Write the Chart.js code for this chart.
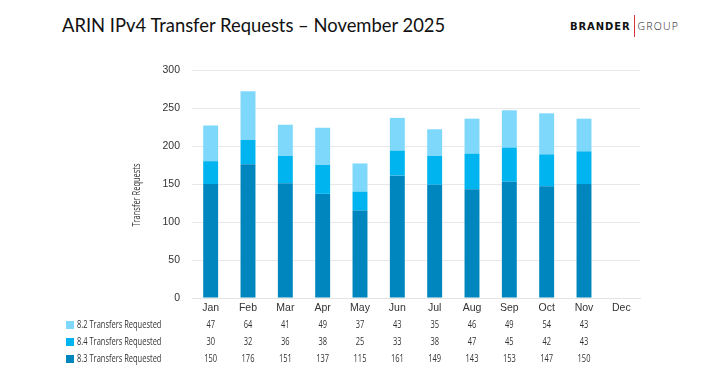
<!DOCTYPE html>
<html>
<head>
<meta charset="utf-8">
<script src="https://cdn.jsdelivr.net/npm/chart.js@4/dist/chart.umd.min.js"></script>
<style>
  html, body { margin: 0; padding: 0; background: #fff; }
  #wrap { position: relative; width: 710px; height: 375px; overflow: hidden; }
  #title { position: absolute; left: 62px; top: 16px; line-height: 18px; font-family: Lato, "Open Sans", sans-serif; font-size: 18.4px; color: #111; white-space: nowrap; }
  #logo { position: absolute; left: 570px; top: 15px; height: 22px; white-space: nowrap; display: flex; align-items: center; }
  #logo .b { font-weight: 900; color: #111; letter-spacing: 0.9px; font-family: "DejaVu Sans", sans-serif; font-size: 10px; }
  #logo .bar { display: inline-block; width: 1px; height: 22px; background: #d9333f; margin: 0 3px 0 3px; }
  #logo .g { font-weight: 300; color: #222; letter-spacing: 1.2px; font-family: "Open Sans", sans-serif; font-size: 10.5px; }
  canvas { position: absolute; left: 0; top: 0; }
</style>
</head>
<body>
<div id="wrap">
  <div id="title">ARIN IPv4 Transfer Requests – November 2025</div>
  <div id="logo"><span class="b">BRANDER</span><span class="bar"></span><span class="g">GROUP</span></div>
  <canvas id="c" width="710" height="375"></canvas>
</div>
<script>
const months = ["Jan","Feb","Mar","Apr","May","Jun","Jul","Aug","Sep","Oct","Nov","Dec"];
const seriesNames = ["8.3 Transfers Requested","8.4 Transfers Requested","8.2 Transfers Requested"];
const req83 = [150,176,151,137,115,161,149,143,153,147,150,null];
const req84 = [30,32,36,38,25,33,38,47,45,42,43,null];
const req82 = [47,64,41,49,37,43,35,46,49,54,43,null];
const yTicks = [0,50,100,150,200,250,300];
const yTitle = "Transfer Requests";
const colors = ["#0086BF","#00B5EF","#7DD8FB"];

const FONT = '"Open Sans", sans-serif';
const SX = 0.68; // horizontal condensation of the narrow reference font

function condensedText(ctx, text, x, y, align) {
  ctx.save();
  ctx.translate(x, y);
  ctx.scale(SX, 1);
  ctx.textAlign = align;
  ctx.fillText(text, 0, 0);
  ctx.restore();
}

const tablePlugin = {
  id: 'dataTable',
  afterDraw(chart) {
    const ctx = chart.ctx;
    const xs = chart.scales.x;
    const rowsOrder = [2,1,0]; // table rows top->bottom: 8.2, 8.4, 8.3
    const rowY = [325, 342, 359];
    ctx.save();
    ctx.font = '11px ' + FONT;
    ctx.textBaseline = 'middle';
    rowsOrder.forEach((di, r) => {
      const ds = chart.data.datasets[di];
      const y = rowY[r];
      ctx.fillStyle = ds.backgroundColor;
      ctx.fillRect(66, y - 4, 8, 8);
      ctx.fillStyle = '#333';
      condensedText(ctx, ds.label, 77, y, 'left');
      ds.data.forEach((v, i) => {
        if (v === null || v === undefined) return;
        condensedText(ctx, String(v), xs.getPixelForValue(i), y, 'center');
      });
    });
    // y axis title
    ctx.save();
    ctx.font = '11px ' + FONT;
    ctx.translate(137, 195);
    ctx.rotate(-Math.PI / 2);
    ctx.scale(SX, 1);
    ctx.textAlign = 'center';
    ctx.textBaseline = 'middle';
    ctx.fillStyle = '#333';
    ctx.fillText(yTitle, 0, 0);
    ctx.restore();
    ctx.restore();
  }
};

new Chart(document.getElementById('c'), {
  type: 'bar',
  data: {
    labels: months,
    datasets: [
      { label: seriesNames[0], data: req83, backgroundColor: colors[0] },
      { label: seriesNames[1], data: req84, backgroundColor: colors[1] },
      { label: seriesNames[2], data: req82, backgroundColor: colors[2] }
    ]
  },
  options: {
    responsive: false,
    animation: false,
    devicePixelRatio: 1,
    layout: { padding: { left: 130, right: 70, top: 70, bottom: 59 } },
    datasets: { bar: { barPercentage: 0.4, categoryPercentage: 1.0 } },
    plugins: { legend: { display: false }, tooltip: { enabled: false } },
    scales: {
      x: {
        stacked: true,
        grid: { display: false, drawTicks: false },
        border: { display: true, color: '#e3e3e3' },
        ticks: { color: '#333', font: { family: '"Liberation Sans", sans-serif', size: 10.5 }, padding: 4, maxRotation: 0 },
        afterFit(s) { s.height = 18; }
      },
      y: {
        stacked: true,
        min: 0, max: 300,
        afterBuildTicks(s) { s.ticks = yTicks.map(v => ({ value: v })); },
        grid: { color: '#e8e8e8', drawTicks: false },
        border: { display: false },
        ticks: { color: '#333', font: { family: '"Liberation Sans", sans-serif', size: 10.5 }, padding: 12 },
        title: { display: false },
        afterFit(s) { s.width = 62; }
      }
    }
  },
  plugins: [tablePlugin]
});
</script>
</body>
</html>
